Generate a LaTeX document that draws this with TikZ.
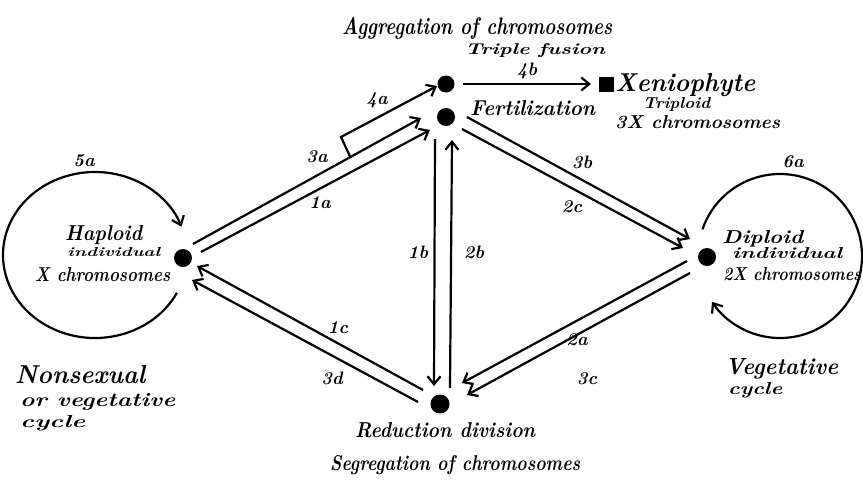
\documentclass[tikz,border=0pt]{standalone}
\usepackage{fontspec}
\usetikzlibrary{arrows.meta,calc}
\newcommand{\hw}[3]{\resizebox{#1pt}{#2pt}{\fontsize{20}{20}\selectfont\bfseries\itshape #3}}
\begin{document}
\begin{tikzpicture}[x=1pt,y=-1pt,
  conn/.style={line width=2.2pt, -{Straight Barb[length=8pt,width=13pt]}},
  dot/.style={circle, fill=black, inner sep=0pt, minimum size=#1},
  dot/.default=18pt,
  sq/.style={rectangle, fill=black, inner sep=0pt, minimum size=15pt},
  txt/.style={inner sep=0pt, anchor=base west},
  lab/.style={inner sep=0pt, anchor=center, font=\fontsize{18}{18}\selectfont\bfseries\itshape}]
\useasboundingbox (0,0) rectangle (863,480);
\fill[white] (0,0) rectangle (863,480);

% dots
\node[dot] (H) at (183,258) {};
\node[dot=17pt] (T) at (446,84) {};
\node[dot] (F) at (446,117) {};
\node[dot=19pt] (R) at (440,404) {};
\node[dot] (D) at (707,257) {};
\node[sq] (X) at (606,84) {};

% connector ends
\coordinate (a3s) at (193,244); \coordinate (a3e) at (421,118);
\coordinate (a1s) at (201,252); \coordinate (a1e) at (430,130);
\coordinate (a4k) at (341,137); \coordinate (a4e) at (437,86);
\coordinate (b1s) at (435,139); \coordinate (b1e) at (434,386);
\coordinate (b2s) at (450,388); \coordinate (b2e) at (452,140);
\coordinate (b3s) at (467,117); \coordinate (b3e) at (690,239);
\coordinate (c2s) at (462,129); \coordinate (c2e) at (683,248);
\coordinate (a2s) at (687,261); \coordinate (a2e) at (462,383);
\coordinate (c3s) at (690,273); \coordinate (c3e) at (467,395);
\coordinate (c1s) at (423,390); \coordinate (c1e) at (197,266);
\coordinate (d3s) at (418,402); \coordinate (d3e) at (192,280);
\coordinate (b4s) at (463,84); \coordinate (b4e) at (591,84);

\draw[conn] (a3s) -- (a3e);
\draw[conn] (a1s) -- (a1e);
\draw[conn] ($(a3s)!0.69!(a3e)$) -- (a4k) -- (a4e);
\draw[conn] (b1s) -- (b1e);
\draw[conn] (b2s) -- (b2e);
\draw[conn] (b3s) -- (b3e);
\draw[conn] (c2s) -- (c2e);
\draw[conn] (a2s) -- (a2e);
\draw[conn] (c3s) -- (c3e);
\draw[conn] (c1s) -- (c1e);
\draw[conn] (d3s) -- (d3e);
\draw[conn] (b4s) -- (b4e);

% cycles
\coordinate (lc) at (95,255);
\coordinate (rc) at (780,256);
\draw[conn] ($(lc)+(27:92 and 83)$) arc[start angle=27, end angle=340, x radius=92, y radius=83];
\draw[conn] ($(rc)+(199:82 and 82)$) arc[start angle=199, end angle=506, x radius=82, y radius=82];

% texts
\node[txt] (agg) at (342,34) {\hw{270}{17}{Aggregation of chromosomes}};
\node[txt] (tri) at (465,54) {\hw{140}{11}{Triple fusion}};
\node[txt] (xen) at (615,91) {\hw{140}{18}{Xeniophyte}};
\node[txt] (tpl) at (643,108) {\hw{67}{11}{Triploid}};
\node[txt] (x3) at (615,128) {\hw{165}{13}{3X chromosomes}};
\node[txt] (fer) at (470,115) {\hw{125}{15}{Fertilization}};
\node[txt] (hap) at (65,240) {\hw{77}{15}{Haploid}};
\node[txt] (ind1) at (67,256) {\hw{93}{9}{individual}};
\node[txt] (x1) at (35,281) {\hw{135}{14}{X chromosomes}};
\node[txt] (dip) at (722,243) {\hw{81}{13}{Diploid}};
\node[txt] (ind2) at (732,258) {\hw{110}{11}{individual}};
\node[txt] (x2) at (723,280) {\hw{138}{13}{2X chromosomes}};
\node[txt] (red) at (355,437) {\hw{180}{15}{Reduction division}};
\node[txt] (seg) at (330,470) {\hw{250}{15}{Segregation of chromosomes}};
\node[txt] (non) at (15,383) {\hw{130}{18}{Nonsexual}};
\node[txt] (orv) at (20,406) {\hw{155}{13}{or vegetative}};
\node[txt] (cy1) at (20,427) {\hw{65}{12}{cycle}};
\node[txt] (veg) at (725,374) {\hw{113}{16}{Vegetative}};
\node[txt] (cy2) at (728,394) {\hw{54}{12}{cycle}};

% labels
\node[lab] (l5a) at (84,161) {5a};
\node[lab] (l6a) at (793,162) {6a};
\node[lab] (l3a) at (317,157) {3a};
\node[lab] (l1a) at (320,203) {1a};
\node[lab] (l4a) at (377,100) {4a};
\node[lab] (l4b) at (527,71) {4b};
\node[lab] (l1b) at (418,252) {1b};
\node[lab] (l2b) at (474,252) {2b};
\node[lab] (l3b) at (582,162) {3b};
\node[lab] (l2c) at (572,207) {2c};
\node[lab] (l1c) at (338,328) {1c};
\node[lab] (l3d) at (332,378) {3d};
\node[lab] (l2a) at (577,340) {2a};
\node[lab] (l3c) at (587,379) {3c};
\end{tikzpicture}
\end{document}
